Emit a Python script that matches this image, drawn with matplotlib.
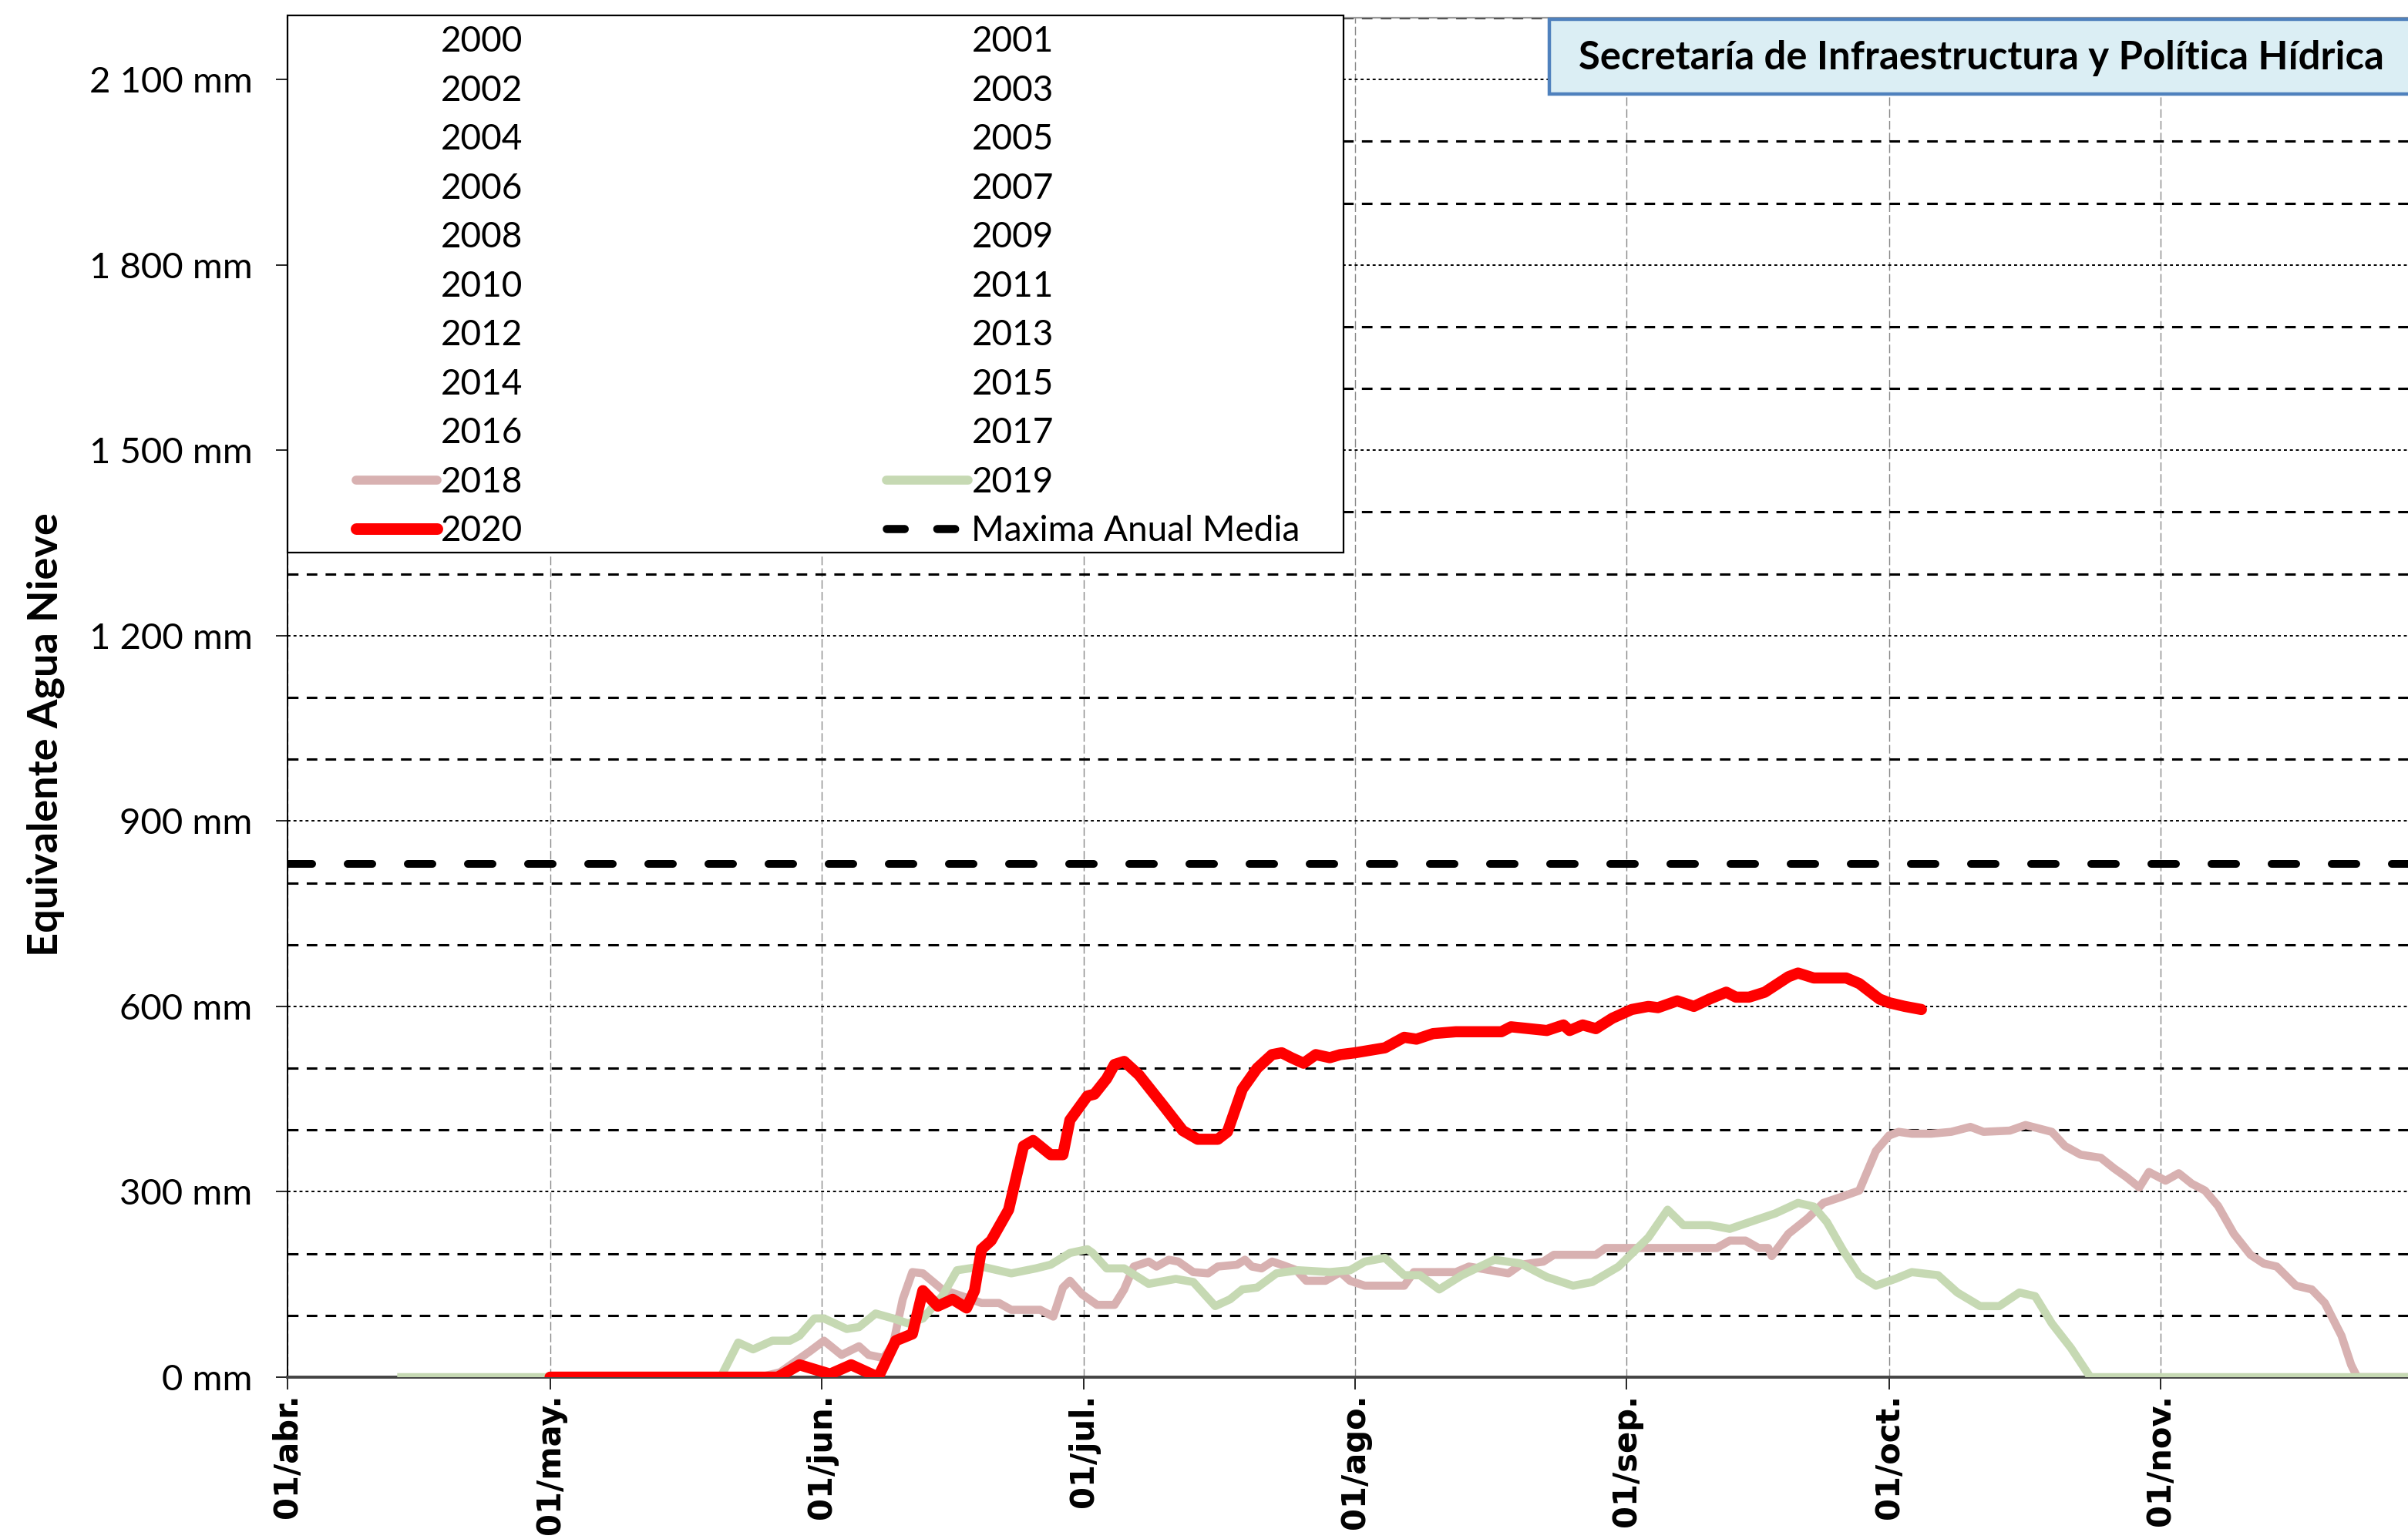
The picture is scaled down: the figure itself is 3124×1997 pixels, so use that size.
import matplotlib
matplotlib.use("Agg")
import matplotlib.pyplot as plt
from matplotlib.lines import Line2D
from matplotlib.patches import Rectangle
from matplotlib.ticker import MultipleLocator, FixedLocator

plt.rcParams['font.family'] = ['Lato', 'DejaVu Sans']

# days counted from 01/abr.
month_ticks = [0, 30, 61, 91, 122, 153, 183, 214]
month_labels = ['01/abr.', '01/may.', '01/jun.', '01/jul.', '01/ago.', '01/sep.', '01/oct.', '01/nov.']

days_2018 = [30, 54, 56.3, 59.7, 61.3, 63.3, 65.3, 66.4, 68.1, 69.2, 70.3, 71.4, 72.6, 74.8, 77.1,
             79.3, 81.3, 82.7, 86, 87.5, 88.6, 89.4, 90.8, 92.5, 94.5, 95.6, 96.7, 98.4, 99.3, 100.7,
             101.8, 103.5, 105.2, 106.3, 108.5, 109.4, 110.2, 111.3, 112.5, 113.6, 115.3, 116.4, 118.6,
             120.3, 121.4, 123.1, 127.6, 128.7, 133.5, 135, 139.5, 140.9, 143.5, 144.7, 149.5, 150.6,
             163.3, 164.8, 166.6, 168.1, 169.2, 169.6, 171.5, 173.7, 175.5, 177.4, 179.6, 181.5, 183,
             184.1, 185.6, 187.8, 190.1, 192.3, 193.8, 196.8, 198.6, 201.6, 203.1, 204.9, 207.2, 208.7,
             210.1, 211.6, 212.7, 214.6, 216.1, 217.6, 219.1, 220.6, 222.4, 224.3, 225.8, 227.3, 229.5,
             231.3, 232.8, 234.7, 235.8, 236.5, 243]
swe_2018 = [0, 0, 8, 42, 59, 36, 50, 36, 31, 53, 126, 170, 168, 142, 131,
            120, 120, 109, 109, 98, 145, 156, 134, 117, 117, 142, 179, 187, 179, 190,
            187, 170, 168, 179, 182, 190, 179, 176, 187, 182, 173, 156, 156,
            170, 156, 148, 148, 170, 170, 179, 168, 182, 187, 198, 198, 209,
            209, 221, 221, 209, 209, 196, 232, 257, 282, 291, 302, 366, 391,
            397, 394, 394, 397, 405, 397, 399, 408, 397, 374, 360, 355, 338,
            324, 307, 332, 318, 330, 313, 302, 277, 232, 198, 184, 179, 148,
            142, 120, 67, 20, 0, 0]

days_2019 = [13, 49.5, 51.5, 53.2, 55.4, 57.4, 58.5, 60.2, 61.3, 63.9, 65.3, 67.2, 69.2, 70.9, 72.6,
             74.8, 76.5, 79.3, 82.7, 85.5, 87.2, 89.4, 91.4, 92, 93.6, 95.6, 98.4, 101.5, 103.5, 106,
             107.7, 109.1, 110.8, 113, 115.5, 119.1, 121.4, 123.1, 125.4, 127.6, 129.4, 131.6, 134.2,
             137.9, 140.9, 143.9, 146.9, 149.1, 152.1, 155.5, 157.7, 159.5, 162.5, 164.8, 167.7, 170,
             172.6, 174.4, 175.9, 177.8, 179.6, 181.5, 183.7, 185.6, 188.6, 190.8, 193.4, 195.6, 197.9,
             199.7, 201.6, 203.8, 206, 243]
swe_2019 = [0, 0, 56, 45, 59, 59, 67, 95, 95, 78, 81, 103, 95, 87, 95,
            131, 173, 179, 168, 176, 182, 201, 207, 201, 176, 176, 151, 159, 154, 115,
            126, 142, 145, 168, 173, 170, 173, 187, 193, 165, 165, 142, 165,
            190, 184, 162, 148, 154, 179, 226, 271, 246, 246, 240, 254, 265,
            282, 276, 251, 204, 165, 148, 159, 170, 165, 137, 115, 115, 137,
            131, 87, 47, 0, 0]

days_2020 = [30, 56, 58.5, 62, 64.4, 67.5, 69.5, 71.4, 72.6, 74.3, 76, 77.6, 78.5, 79.3, 80.4,
             82.4, 84.1, 85.2, 87.2, 88.6, 89.4, 91.4, 92.2, 93.6, 94.5, 95.6, 97.3, 98.7, 100.1,
             102.3, 104, 106.3, 107.4, 109.1, 110.8, 112.5, 113.6, 114.7, 116.1, 117.5, 119.1, 120.3,
             122, 125.4, 127.6, 129, 130.9, 133.5, 138.7, 139.8, 143.9, 145.8, 146.5, 148, 149.5,
             151.4, 153.6, 155.5, 156.6, 158.8, 160.7, 162.5, 164.4, 165.5, 167, 168.8, 171.5, 172.6,
             174.4, 178.1, 179.6, 181.9, 183, 184.8, 186.7]
swe_2020 = [0, 0, 20, 5, 20, 0, 59, 70, 140, 115, 126, 112, 140, 207, 221,
            271, 374, 383, 360, 360, 416, 455, 458, 483, 506, 511, 489, 464, 439,
            399, 385, 385, 397, 466, 500, 522, 525, 517, 508, 522, 517, 522,
            525, 533, 550, 547, 556, 559, 559, 567, 561, 570, 561, 570, 564,
            581, 595, 600, 598, 609, 600, 612, 623, 615, 615, 623, 648, 654,
            646, 646, 637, 612, 606, 600, 595]

max_anual_media = 830
years_empty = list(range(2000, 2018))

c2018 = '#D8B1B1'
c2019 = '#C6D9B3'
c2020 = '#FF0000'

W, H = 3124, 1997
fig = plt.figure(figsize=(W / 200, H / 200), dpi=200)
ax = fig.add_axes([373 / W, 1 - 1787 / H, 1 - 373 / W, (1787 - 23) / H])

ax.plot(days_2018, swe_2018, color=c2018, lw=3.8, solid_joinstyle='round', zorder=3)
ax.plot(days_2019, swe_2019, color=c2019, lw=3.8, solid_joinstyle='round', zorder=3)
ax.plot(days_2020, swe_2020, color=c2020, lw=5.2, solid_joinstyle='round',
        solid_capstyle='round', zorder=4)
ax.axhline(max_anual_media, color='black', lw=3.6, linestyle=(0, (3.2, 4.6)),
           dash_capstyle='round', zorder=5)

ax.set_xlim(0, 242.3)
ax.set_ylim(0, 2200)

ax.xaxis.set_major_locator(FixedLocator(month_ticks))
ax.set_xticklabels(month_labels, rotation=90, fontfamily='DejaVu Sans',
                   fontweight='bold', fontsize=15)
ax.yaxis.set_major_locator(FixedLocator(list(range(0, 2101, 300))))
ax.yaxis.set_minor_locator(MultipleLocator(100))
ax.set_yticklabels([f"{v:,}".replace(',', ' ') + ' mm' for v in range(0, 2101, 300)], fontsize=17)
ax.tick_params(axis='x', direction='out', length=5.8, width=0.6, pad=2)
ax.tick_params(axis='y', which='major', direction='out', length=5.4, width=0.6, pad=11)
ax.tick_params(axis='y', which='minor', length=0)

ax.set_axisbelow(True)
ax.grid(axis='x', which='major', color='#888888', lw=0.5, linestyle=(0, (8, 3)))
ax.grid(axis='y', which='major', color='black', lw=0.7, linestyle=(0, (2, 2)))
ax.grid(axis='y', which='minor', color='black', lw=1.1, linestyle=(0, (4.5, 3.5)))

ax.spines['right'].set_visible(False)
ax.spines['top'].set_color('#999999')
ax.spines['top'].set_linewidth(0.8)
ax.spines['left'].set_linewidth(0.7)
ax.spines['bottom'].set_color('#444444')
ax.spines['bottom'].set_linewidth(1.4)

ax.set_ylabel('Equivalente Agua Nieve', fontsize=19.5, fontweight='bold')
ax.yaxis.set_label_coords(-0.105, 0.473)

# legend frame drawn by hand, legend on top of it
fig.patches.append(Rectangle((373 / W, 1 - 717 / H), (1743 - 373) / W, (717 - 20) / H,
                             transform=fig.transFigure, facecolor='white',
                             edgecolor='black', lw=0.8, zorder=2))

handles = {}
for y in years_empty:
    handles[y] = Line2D([], [], color='none', lw=3)
handles[2018] = Line2D([], [], color=c2018, lw=4.2, solid_capstyle='round')
handles[2019] = Line2D([], [], color=c2019, lw=4.2, solid_capstyle='round')
handles[2020] = Line2D([], [], color=c2020, lw=5.4, solid_capstyle='round')
max_handle = Line2D([], [], color='black', lw=3.8, linestyle=(0, (2.2, 4.0)),
                    dash_capstyle='round')

col1 = [y for y in range(2000, 2021) if y % 2 == 0]
col2 = [y for y in range(2000, 2021) if y % 2 == 1]
leg_handles = [handles[y] for y in col1] + [handles[y] for y in col2] + [max_handle]
leg_labels = [str(y) for y in col1] + [str(y) for y in col2] + ['Maxima Anual Media']

leg = fig.legend(leg_handles, leg_labels, loc='upper left',
                 bbox_to_anchor=(462 / W, 1 - 33 / H), bbox_transform=fig.transFigure,
                 ncol=2, frameon=False, fontsize=16.5, handlelength=2.3, handletextpad=0.1,
                 columnspacing=10.3, labelspacing=0.47, borderpad=0, borderaxespad=0)
leg.set_zorder(5)

# title box
fig.patches.append(Rectangle((2010 / W, 1 - 122 / H), (W + 20 - 2010) / W, (122 - 25) / H,
                             transform=fig.transFigure, facecolor='#DBEEF4',
                             edgecolor='#4F81BD', lw=1.6, zorder=2))
fig.text(2048 / W, 1 - 90 / H, 'Secretaría de Infraestructura y Política Hídrica',
         fontsize=18.3, fontweight='bold', ha='left', va='baseline', zorder=6)

fig.savefig('out.png', dpi=200)
